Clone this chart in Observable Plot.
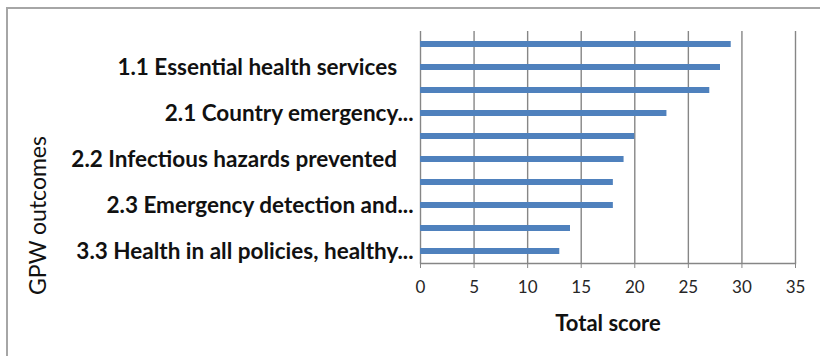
<!DOCTYPE html>
<html>
<head>
<meta charset="utf-8">
<script src="https://cdn.jsdelivr.net/npm/d3@7"></script>
<script src="https://cdn.jsdelivr.net/npm/@observablehq/plot@0.6"></script>
<style>
html, body { margin: 0; padding: 0; background: #fff; }
#wrap { position: relative; width: 820px; height: 356px; overflow: hidden; }
#frame { position: absolute; left: 6px; top: 7px; width: 840px; height: 380px;
  border-left: 2px solid #a6a6a6; border-top: 2px solid #a6a6a6; pointer-events: none; }
svg text { white-space: pre; }
</style>
</head>
<body>
<div id="wrap"><div id="chart"></div><div id="frame"></div></div>
<script>
// Categories, top to bottom (only every other one is labelled in the source chart)
const outcomes = [
  "1.2 Financial protection",
  "1.1 Essential health services   ",
  "1.3 Access to medicines",
  "2.1 Country emergency...",
  "3.1 Determinants of health",
  "2.2 Infectious hazards prevented   ",
  "3.2 Risk factors reduced",
  "2.3 Emergency detection and...",
  "4.1 Data and innovation",
  "3.3 Health in all policies, healthy..."
];
const scores = [29, 28, 27, 23, 20, 19, 18, 18, 14, 13];
const labelledOutcomes = [
  "1.1 Essential health services   ",
  "2.1 Country emergency...",
  "2.2 Infectious hazards prevented   ",
  "2.3 Emergency detection and...",
  "3.3 Health in all policies, healthy..."
];
const xTicks = [0, 5, 10, 15, 20, 25, 30, 35];
const xTitle = "Total score";
const yTitle = "GPW outcomes";

const data = outcomes.map((o, i) => ({outcome: o, score: scores[i]}));

const chart = Plot.plot({
  width: 820,
  height: 356,
  marginLeft: 420,
  marginRight: 25,
  marginTop: 31,
  marginBottom: 93,
  style: {fontFamily: "Lato", background: "transparent", color: "#262626"},
  x: {domain: [0, 35]},
  y: {domain: outcomes, paddingInner: 0.74, paddingOuter: 0.37},
  marks: [
    Plot.ruleX(xTicks, {stroke: "#868686", strokeWidth: 1.4}),
    Plot.frame({anchor: "bottom", stroke: "#868686", strokeWidth: 1.4}),
    Plot.barX(data, {x: "score", y: "outcome", fill: "#4f81bd"}),
    Plot.axisX({ticks: xTicks, tickSize: 5, tickPadding: 12, fontSize: 17, stroke: "#868686", label: null}),
    Plot.axisY({ticks: labelledOutcomes, tickSize: 0, tickPadding: 7, fontSize: 22.5, fontWeight: "bold", fill: "#111", label: null}),
    Plot.text([xTitle], {frameAnchor: "bottom", dy: 67, fontSize: 22, fontWeight: "bold", fill: "#111"}),
    Plot.text([yTitle], {frameAnchor: "left", textAnchor: "middle", dx: -382, dy: 68, rotate: -90, fontSize: 23, fill: "#111"})
  ]
});
document.getElementById("chart").append(chart);
</script>
</body>
</html>
